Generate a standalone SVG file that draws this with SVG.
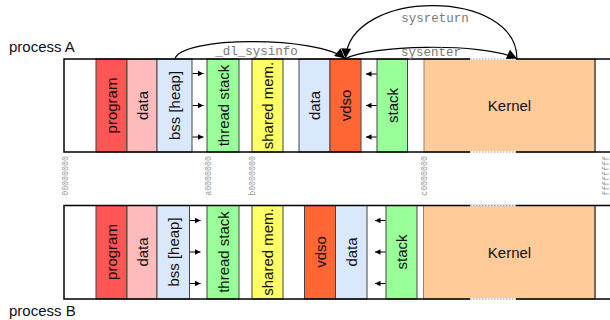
<svg xmlns="http://www.w3.org/2000/svg" width="610" height="320" viewBox="0 0 610 320">
<defs>
<style>
.seg{stroke:#444;stroke-width:1}
.lbl{font-family:"Liberation Sans",Arial,sans-serif;font-size:15px;fill:#111;text-anchor:middle}
.proc{font-family:"Liberation Sans",Arial,sans-serif;font-size:15px;fill:#111}
.mono{font-family:"Liberation Mono","Courier New",monospace;font-size:12.5px;fill:#777;text-anchor:middle}
.addr{font-family:"Liberation Mono","Courier New",monospace;font-size:8.3px;fill:#999;text-anchor:end}
.bar{fill:none;stroke:#000;stroke-width:1.5}
.grow{stroke:#000;stroke-width:1;fill:none;marker-end:url(#small)}
.conn{stroke:#000;stroke-width:1.2;fill:none;marker-end:url(#big)}
.dot{stroke:#fff;stroke-width:2}
.dot2{stroke:#999;stroke-width:1.2;stroke-dasharray:1.5 1.5}
</style>
<marker id="small" viewBox="0 0 10 10" refX="10" refY="5" markerWidth="7" markerHeight="5.5" markerUnits="userSpaceOnUse" orient="auto"><path d="M0,0 L10,5 L0,10 z" fill="#000"/></marker>
<marker id="big" viewBox="0 0 10 10" refX="10" refY="5" markerWidth="13" markerHeight="10" markerUnits="userSpaceOnUse" orient="auto"><path d="M0,0 L10,5 L0,10 z" fill="#000"/></marker>
</defs>
<rect width="610" height="320" fill="#fff"/>

<text class="proc" x="9" y="52">process A</text>
<text class="proc" x="9" y="316">process B</text>

<!-- process A -->
<g id="processA">
<rect x="64" y="59" width="560" height="93" fill="#fff"/>
<g id="A-program"><rect class="seg" x="96" y="59" width="31" height="93" fill="#ff5555"/><text class="lbl" transform="translate(111.5,105.5) rotate(-90)" y="5.5">program</text></g>
<g id="A-data"><rect class="seg" x="127" y="59" width="30" height="93" fill="#ffbbbb"/><text class="lbl" transform="translate(142,105.5) rotate(-90)" y="5.5">data</text></g>
<g id="A-bss"><rect class="seg" x="157" y="59" width="35" height="93" fill="#dae8fc"/><text class="lbl" transform="translate(174.5,105.5) rotate(-90)" y="5.5">bss [heap]</text></g>
<g id="A-thread"><rect class="seg" x="207" y="59" width="32" height="93" fill="#99ff99"/><text class="lbl" transform="translate(223,105.5) rotate(-90)" y="6">thread stack</text></g>
<g id="A-shared"><rect class="seg" x="252" y="59" width="31" height="93" fill="#ffff66"/><text class="lbl" transform="translate(267.5,105.5) rotate(-90)" y="5.5">shared mem.</text></g>
<g id="A-data2"><rect class="seg" x="299" y="59" width="31" height="93" fill="#dae8fc"/><text class="lbl" transform="translate(314.5,105.5) rotate(-90)" y="5.5">data</text></g>
<g id="A-vdso"><rect class="seg" x="330" y="59" width="31" height="93" fill="#ff6633"/><text class="lbl" transform="translate(345.5,105.5) rotate(-90)" y="5.5">vdso</text></g>
<g id="A-stack"><rect class="seg" x="377" y="59" width="30.5" height="93" fill="#99ff99"/><text class="lbl" transform="translate(392,105.5) rotate(-90)" y="5.5">stack</text></g>
<g id="A-kernel"><rect x="424" y="59" width="171" height="93" fill="#ffcc99" stroke="#888" stroke-width="1"/><line x1="595" y1="59" x2="595" y2="152" stroke="#776a5e" stroke-width="2"/><text class="lbl" x="509.5" y="111">Kernel</text></g>
<rect class="bar" x="64" y="59" width="560" height="93"/>
<line class="dot" x1="470" y1="59" x2="516" y2="59"/><line class="dot2" x1="470" y1="59" x2="516" y2="59"/>
<line class="dot" x1="470" y1="152" x2="516" y2="152"/><line class="dot2" x1="470" y1="152" x2="516" y2="152"/>
</g>

<!-- process B -->
<g id="processB">
<rect x="64" y="205.5" width="560" height="93.5" fill="#fff"/>
<g id="B-program"><rect class="seg" x="96" y="205.5" width="31" height="93.5" fill="#ff5555"/><text class="lbl" transform="translate(111.5,252) rotate(-90)" y="5.5">program</text></g>
<g id="B-data"><rect class="seg" x="127" y="205.5" width="30" height="93.5" fill="#ffbbbb"/><text class="lbl" transform="translate(142,252) rotate(-90)" y="5.5">data</text></g>
<g id="B-bss"><rect class="seg" x="157" y="205.5" width="32.5" height="93.5" fill="#dae8fc"/><text class="lbl" transform="translate(173,252) rotate(-90)" y="5.5">bss [heap]</text></g>
<g id="B-thread"><rect class="seg" x="207" y="205.5" width="32" height="93.5" fill="#99ff99"/><text class="lbl" transform="translate(223,252) rotate(-90)" y="6">thread stack</text></g>
<g id="B-shared"><rect class="seg" x="252" y="205.5" width="31" height="93.5" fill="#ffff66"/><text class="lbl" transform="translate(267.5,252) rotate(-90)" y="5.5">shared mem.</text></g>
<g id="B-vdso"><rect class="seg" x="304.5" y="205.5" width="31" height="93.5" fill="#ff6633"/><text class="lbl" transform="translate(320,252) rotate(-90)" y="5.5">vdso</text></g>
<g id="B-data2"><rect class="seg" x="335.5" y="205.5" width="31.5" height="93.5" fill="#dae8fc"/><text class="lbl" transform="translate(351,252) rotate(-90)" y="5.5">data</text></g>
<g id="B-stack"><rect class="seg" x="386" y="205.5" width="31" height="93.5" fill="#99ff99"/><text class="lbl" transform="translate(401.5,252) rotate(-90)" y="5.5">stack</text></g>
<g id="B-kernel"><rect x="423.5" y="205.5" width="171.5" height="93.5" fill="#ffcc99" stroke="#888" stroke-width="1"/><line x1="595" y1="205.5" x2="595" y2="299" stroke="#776a5e" stroke-width="2"/><text class="lbl" x="509.5" y="258">Kernel</text></g>
<rect class="bar" x="64" y="205.5" width="560" height="93.5"/>
<line class="dot" x1="470" y1="205.5" x2="516" y2="205.5"/><line class="dot2" x1="470" y1="205.5" x2="516" y2="205.5"/>
<line class="dot" x1="470" y1="299" x2="516" y2="299"/><line class="dot2" x1="470" y1="299" x2="516" y2="299"/>
</g>

<!-- addresses -->
<g id="addresses">
<text class="addr" transform="translate(64.5,156) rotate(-90)" y="3">00000000</text>
<text class="addr" transform="translate(208,156) rotate(-90)" y="3">a0000000</text>
<text class="addr" transform="translate(252,156) rotate(-90)" y="3">b0000000</text>
<text class="addr" transform="translate(424,156) rotate(-90)" y="3">c0000000</text>
<text class="addr" transform="translate(605.5,156) rotate(-90)" y="3">ffffffff</text>
</g>

<!-- connectors -->
<g id="connectors">
<line class="grow" x1="192.5" y1="73.5" x2="203.5" y2="73.5"/>
<line class="grow" x1="192.5" y1="105.5" x2="203.5" y2="105.5"/>
<line class="grow" x1="192.5" y1="137" x2="203.5" y2="137"/>
<line class="grow" x1="376.5" y1="74" x2="366" y2="74"/>
<line class="grow" x1="376.5" y1="105.5" x2="366" y2="105.5"/>
<line class="grow" x1="376.5" y1="137" x2="366" y2="137"/>
<line class="grow" x1="190" y1="220.5" x2="200.5" y2="220.5"/>
<line class="grow" x1="190" y1="252" x2="200.5" y2="252"/>
<line class="grow" x1="190" y1="283.5" x2="200.5" y2="283.5"/>
<line class="grow" x1="385.5" y1="220.5" x2="375" y2="220.5"/>
<line class="grow" x1="385.5" y1="252" x2="375" y2="252"/>
<line class="grow" x1="385.5" y1="283.5" x2="375" y2="283.5"/>
<path class="conn" d="M175,59 C180,36 318,36 345,58.5"/>
<path class="conn" d="M517,59 C517,-12 350,-12 345.5,58.5"/>
<path class="conn" d="M345,59 C370,45 480,42 517,58.5"/>
<text class="mono" x="256.5" y="55">_dl_sysinfo</text>
<text class="mono" x="435" y="21.5">sysreturn</text>
<text class="mono" x="431" y="56">sysenter</text>
</g>
</svg>
